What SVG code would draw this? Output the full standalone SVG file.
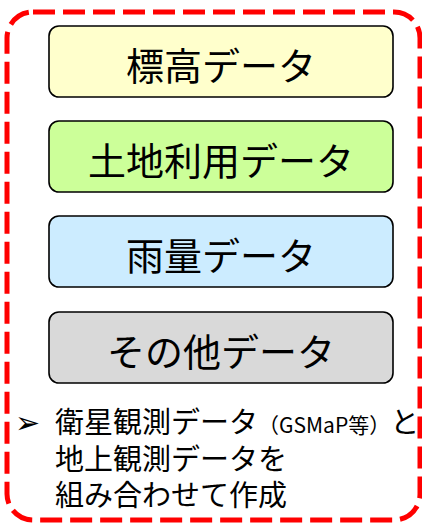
<svg xmlns="http://www.w3.org/2000/svg" width="422" height="524" viewBox="0 0 422 524">
<style>
.box{stroke:#000;stroke-width:1.6}
.lbl{font-family:"Noto Sans CJK JP","Noto Sans",sans-serif;font-size:38px;fill:#000;text-anchor:middle}
.note{font-family:"Noto Sans CJK JP","Noto Sans",sans-serif;font-size:29px;fill:#000}
.small{font-size:21px}
.bullet{font-family:"DejaVu Sans",sans-serif;font-size:30px;fill:#000}
</style>
<rect x="0" y="0" width="422" height="524" fill="#fff"/>
<g id="frame">
<rect x="7" y="12" width="413" height="508" rx="26" fill="none" stroke="#FF0000" stroke-width="5" stroke-dasharray="22 8"/>
</g>
<g id="n1">
<rect class="box" x="49" y="26" width="344" height="71" rx="10" fill="#FFFFCC"/>
<text class="lbl" x="221" y="80">標高データ</text>
</g>
<g id="n2">
<rect class="box" x="49" y="121" width="344" height="71" rx="10" fill="#CCFF99"/>
<text class="lbl" x="221" y="175">土地利用データ</text>
</g>
<g id="n3">
<rect class="box" x="49" y="216" width="344" height="71" rx="10" fill="#CCECFF"/>
<text class="lbl" x="221" y="270">雨量データ</text>
</g>
<g id="n4">
<rect class="box" x="49" y="312" width="344" height="71" rx="10" fill="#D9D9D9"/>
<text class="lbl" x="221" y="366">その他データ</text>
</g>
<g id="note">
<text class="bullet" x="15" y="433">➢</text>
<text class="note" x="55" y="433">衛星観測データ<tspan class="small">（GSMaP等）</tspan>と</text>
<text class="note" x="55" y="470">地上観測データを</text>
<text class="note" x="55" y="506">組み合わせて作成</text>
</g>
<g id="connectors"></g>
</svg>
